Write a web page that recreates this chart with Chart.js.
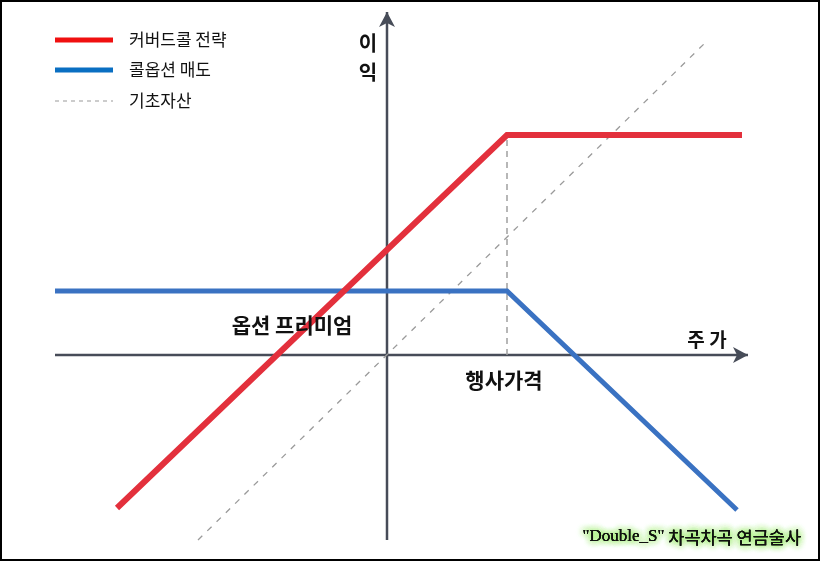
<!DOCTYPE html>
<html>
<head>
<meta charset="utf-8">
<script src="https://cdn.jsdelivr.net/npm/chart.js@4.4.1/dist/chart.umd.min.js"></script>
<style>
  html, body { margin: 0; padding: 0; background: #ffffff; }
  #wrap { position: relative; width: 821px; height: 562px; }
</style>
</head>
<body>
<div id="wrap"><canvas id="c"></canvas></div>
<script>
// ---- data (x = stock price, y = profit; origin at axis crossing) ----
const strike = 12;
const premium = 6.4;
const coveredX = [-27, 12, 35.5];
const coveredY = [-15.3, 22, 22];
const callX = [-33.2, 12, 35];
const callY = [6.4, 6.4, -15.5];
const underlyingX = [-18.9, 32.1];
const underlyingY = [-18.5, 31.5];
const xAxisRange = [-33.2, 36.1];
const yAxisRange = [-18.5, 34.3];
const seriesNames = ['커버드콜 전략', '콜옵션 매도', '기초자산'];
const labelTexts = { yTitle: ['이', '익'], xTitle: '주 가', premium: '옵션 프리미엄', strike: '행사가격' };
const watermark = ['"Double_S"', ' 차곡차곡 연금술사'];

const pts = (xs, ys) => xs.map((x, i) => ({ x, y: ys[i] }));
const FONT = "'Noto Sans CJK KR', 'Noto Sans', sans-serif";
const AXIS = '#474c58';

const overlay = {
  id: 'overlay',
  afterDatasetsDraw(chart) {
    const ctx = chart.ctx;
    const xs = chart.scales.x, ys = chart.scales.y;
    const X = v => xs.getPixelForValue(v), Y = v => ys.getPixelForValue(v);
    ctx.save();
    // arrow heads
    function arrow(tx, ty, ang) {
      ctx.save();
      ctx.translate(tx, ty);
      ctx.rotate(ang);
      ctx.fillStyle = AXIS;
      ctx.beginPath();
      ctx.moveTo(0, 0);
      ctx.lineTo(-15, -8);
      ctx.lineTo(-11, 0);
      ctx.lineTo(-15, 8);
      ctx.closePath();
      ctx.fill();
      ctx.restore();
    }
    arrow(X(xAxisRange[1]), Y(0), 0);
    arrow(X(0), Y(yAxisRange[1]), -Math.PI / 2);

    // labels
    ctx.fillStyle = '#111';
    ctx.textAlign = 'center';
    ctx.textBaseline = 'middle';
    ctx.font = "bold 20px " + FONT;
    ctx.fillText(labelTexts.yTitle[0], X(-1.9), Y(31.2));
    ctx.fillText(labelTexts.yTitle[1], X(-1.9), Y(28.3));
    ctx.font = "bold 19px " + FONT;
    ctx.fillText(labelTexts.xTitle, X(32.0), Y(1.5));
    ctx.font = "bold 21px " + FONT;
    ctx.fillText(labelTexts.premium, X(-9.5), Y(3.0));
    ctx.fillText(labelTexts.strike, X(strike - 0.3), Y(-2.5));

    // legend
    const rows = [{ y: 40, c: '#f01010', w: 5, dash: [] }, { y: 70, c: '#0a6fc2', w: 5, dash: [] }, { y: 101, c: '#9a9a9a', w: 1.2, dash: [4, 4] }];
    rows.forEach((r, i) => {
      ctx.beginPath();
      ctx.strokeStyle = r.c;
      ctx.lineWidth = r.w;
      ctx.setLineDash(r.dash);
      ctx.moveTo(55, r.y);
      ctx.lineTo(113, r.y);
      ctx.stroke();
      ctx.setLineDash([]);
      ctx.fillStyle = '#111';
      ctx.textAlign = 'left';
      ctx.font = "17px " + FONT;
      ctx.fillText(seriesNames[i], 129, r.y);
    });

    // watermark with green glow
    ctx.textAlign = 'left';
    ctx.textBaseline = 'middle';
    const f1 = "17px 'Liberation Serif', serif";
    const f2 = "17.5px " + FONT;
    ctx.font = f1; const w1 = ctx.measureText(watermark[0]).width;
    ctx.font = f2; const w2 = ctx.measureText(watermark[1]).width;
    const x0 = 801 - w1 - w2, y0 = 537;
    for (let k = 0; k < 3; k++) {
      ctx.shadowColor = 'rgba(130,230,70,0.95)';
      ctx.shadowBlur = 7;
      ctx.fillStyle = '#111';
      ctx.font = f1; ctx.fillText(watermark[0], x0, y0);
      ctx.font = f2; ctx.fillText(watermark[1], x0 + w1, y0);
    }
    ctx.shadowBlur = 0;
    ctx.shadowColor = 'transparent';
    ctx.font = f1; ctx.fillText(watermark[0], x0, y0);
    ctx.font = f2; ctx.fillText(watermark[1], x0 + w1, y0);

    // frame
    ctx.strokeStyle = '#000';
    ctx.lineWidth = 2;
    ctx.strokeRect(1, 1, chart.width - 3, chart.height - 3);
    ctx.restore();
  }
};

new Chart(document.getElementById('c'), {
  type: 'scatter',
  data: {
    datasets: [
      { label: 'xaxis', data: pts(xAxisRange, [0, 0]), showLine: true, borderColor: AXIS, borderWidth: 2.5, pointRadius: 0, order: 5 },
      { label: 'yaxis', data: pts([0, 0], yAxisRange), showLine: true, borderColor: AXIS, borderWidth: 2.5, pointRadius: 0, order: 5 },
      { label: 'strike', data: pts([strike, strike], [0, coveredY[1]]), showLine: true, borderColor: '#a0a0a0', borderWidth: 1.5, borderDash: [6, 5], pointRadius: 0, order: 4 },
      { label: seriesNames[2], data: pts(underlyingX, underlyingY), showLine: true, borderColor: '#9a9a9a', borderWidth: 1.3, borderDash: [6, 7], pointRadius: 0, order: 3 },
      { label: seriesNames[1], data: pts(callX, callY), showLine: true, borderColor: '#3a72c2', borderWidth: 5, pointRadius: 0, order: 2, borderCapStyle: 'butt' },
      { label: seriesNames[0], data: pts(coveredX, coveredY), showLine: true, borderColor: '#e3303c', borderWidth: 6, pointRadius: 0, order: 1, borderCapStyle: 'butt' }
    ]
  },
  options: {
    responsive: true,
    maintainAspectRatio: false,
    animation: false,
    layout: { padding: 0 },
    plugins: { legend: { display: false }, tooltip: { enabled: false } },
    elements: { line: { tension: 0, borderJoinStyle: 'miter' } },
    scales: {
      x: { type: 'linear', min: -38.7, max: 43.4, display: false },
      y: { type: 'linear', min: -20.7, max: 35.5, display: false }
    }
  },
  plugins: [overlay]
});
</script>
</body>
</html>
